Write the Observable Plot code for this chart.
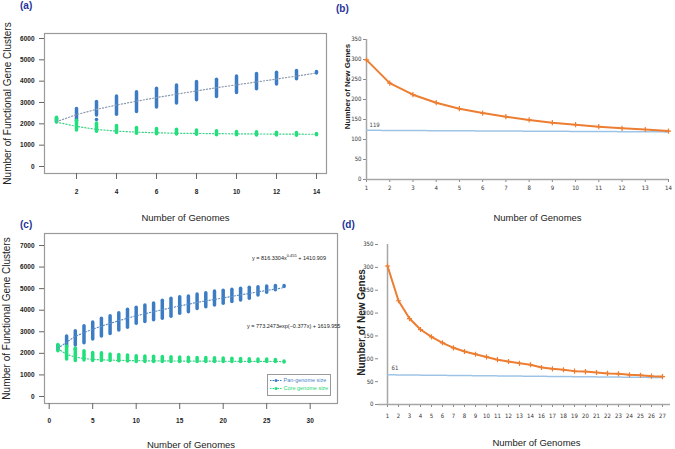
<!DOCTYPE html>
<html><head><meta charset="utf-8">
<script src="https://cdn.jsdelivr.net/npm/d3@7"></script>
<script src="https://cdn.jsdelivr.net/npm/@observablehq/plot@0.6"></script>
<style>
body{margin:0;background:#fff}
#fig{position:relative;width:675px;height:449px;background:#fff;overflow:hidden;font-family:"Liberation Sans",Arial,sans-serif}
.panel{position:absolute}
.plab{position:absolute;font-weight:bold;font-size:10px;color:#26329a;line-height:1}
.eq{position:absolute;font-size:5.5px;color:#222;white-space:nowrap;line-height:1}
.eq sup{font-size:4px;vertical-align:3px}
.legend{position:absolute;left:267px;top:374px;width:62px;height:20px;border:1px solid #999;background:#fff;font-size:5.5px;line-height:1}
.legend div{position:absolute;left:2px;white-space:nowrap}
.legend svg{vertical-align:middle}
</style></head><body><div id="fig"></div>
<script>
// ---------- data ----------
// (a) 14 genomes
const genomesA = [1,2,3,4,5,6,7,8,9,10,11,12,13,14];
const panLoA  = [2080,2120,2390,2420,2560,2760,2950,3100,3260,3450,3620,3840,4090,4380];
const panHiA  = [2230,2700,3020,3280,3480,3640,3800,3960,4070,4220,4330,4400,4480,4430];
const panTrendA = [2100,2430,2680,2880,3060,3230,3390,3540,3690,3830,3960,4100,4240,4380];
const coreLoA = [2060,1690,1630,1570,1530,1510,1500,1490,1470,1460,1450,1450,1440,1460];
const coreHiA = [2280,2150,2020,1900,1810,1760,1720,1690,1650,1620,1600,1580,1570,1520];
const coreTrendA = [2080,1880,1740,1660,1610,1580,1560,1550,1540,1530,1525,1520,1515,1510];
const panOutlierNA = [3]; const panOutlierYA = [2200];
const yTicksA = [0,1000,2000,3000,4000,5000,6000];
const xTicksA = [2,4,6,8,10,12,14];

// (b) new genes, 14 genomes
const genomesB = [1,2,3,4,5,6,7,8,9,10,11,12,13,14];
const newGenesB = [299,241,212,192,177,166,157,149,142,137,132,128,125,121];
const fitB = [123,119];
const fitLabelB = "119";
const yTicksB = [0,50,100,150,200,250,300,350];

// (c) 27 genomes
const genomesC = [1,2,3,4,5,6,7,8,9,10,11,12,13,14,15,16,17,18,19,20,21,22,23,24,25,26,27];
const panLoC = [2150,2290,2360,2470,2640,2780,2900,3060,3190,3370,3450,3540,3600,3700,3830,3910,4060,4140,4220,4300,4380,4450,4530,4680,4810,4920,5080];
const panHiC = [2350,2780,3030,3260,3430,3600,3720,3860,4020,4110,4220,4310,4440,4530,4600,4640,4730,4790,4870,4900,4950,5000,5040,5070,5100,5120,5120];
const panTrendC = [2230,2520,2790,2960,3120,3260,3390,3510,3630,3740,3840,3930,4020,4110,4200,4280,4360,4430,4500,4570,4640,4710,4780,4850,4920,4980,5050];
const coreLoC = [2100,1720,1640,1670,1640,1640,1640,1630,1620,1600,1600,1600,1600,1600,1600,1600,1600,1600,1600,1600,1600,1600,1600,1600,1600,1600,1580];
const coreHiC = [2390,2320,2170,2100,2020,2000,1950,1920,1900,1860,1850,1840,1830,1820,1810,1800,1790,1780,1770,1760,1750,1740,1730,1720,1710,1690,1620];
const coreTrendC = [2220,1950,1830,1760,1720,1700,1685,1675,1665,1660,1655,1650,1648,1646,1644,1642,1640,1638,1636,1634,1632,1630,1628,1626,1624,1622,1620];
const panOutlierNC = [3]; const panOutlierYC = [2200];
const coreOutlierNC = [3]; const coreOutlierYC = [2250];
const yTicksC = [0,1000,2000,3000,4000,5000,6000,7000];
const xTicksC = [0,5,10,15,20,25,30];

// (d) new genes, 26 points (axis labels as printed)
const genomeLabelsD = ["1","2","3","4","5","6","7","8","9","10","11","12","13","14","16","17","18","19","20","21","22","23","24","25","26","27"];
const newGenesD = [303,227,188,164,148,135,124,116,110,104,98,94,90,87,81,78,76,73,72,70,68,67,65,64,62,61];
const fitD = [65,59];
const fitLabelD = "61";
const yTicksD = [0,50,100,150,200,250,300,350];

const xTitle = "Number of Genomes";
const yTitleAC = "Number of Functional Gene Clusters";
const yTitleBD = "Number of New Genes";

// ---------- helpers ----------
const BLUE = "#3c7cc3", GREEN = "#1fe07a", ORANGE = "#ed7d31", LBLUE = "#9cc3e6";
const fmt = d => String(d);
const fig = document.getElementById("fig");
function place(node, left, top) {
  const d = document.createElement("div");
  d.className = "panel"; d.style.left = left + "px"; d.style.top = top + "px";
  d.appendChild(node); fig.appendChild(d);
}
function html(cls, left, top, inner) {
  const d = document.createElement("div");
  d.className = cls; d.style.left = left + "px"; d.style.top = top + "px";
  d.innerHTML = inner; fig.appendChild(d);
}
const rows = (ns, lo, hi) => ns.map((n, i) => ({n, lo: lo[i], hi: hi[i]}));
const pts = (ns, ys) => ns.map((n, i) => ({n, y: ys[i]}));
const styleAC = {fontFamily: "Liberation Sans, Arial, sans-serif", fontSize: "6.5px", fontWeight: "bold", color: "#222", background: "transparent", overflow: "visible"};
const styleBD = {fontFamily: "Liberation Sans Narrow, DejaVu Sans Condensed, sans-serif", fontSize: "6px", color: "#333", background: "transparent", overflow: "visible"};
const title = (t, o) => Plot.text([t], {text: d => d, textAnchor: "middle", lineAnchor: "middle", fill: "#222", ...o});

// ---------- (a) ----------
place(Plot.plot({
  width: 340, height: 225,
  marginLeft: 44, marginRight: 14, marginTop: 33, marginBottom: 52,
  style: styleAC,
  x: {domain: [0.4, 14.5], label: null},
  y: {domain: [-328, 6234], label: null},
  marks: [
    Plot.frame({stroke: "#9a9a9a", strokeWidth: 1.2}),
    Plot.axisY(yTicksA, {tickSize: 5, tickPadding: 5, label: null, stroke: "#666", tickFormat: fmt}),
    Plot.axisX(xTicksA, {tickSize: 6, tickPadding: 10, label: null, stroke: "#666", tickFormat: fmt}),
    Plot.ruleX(rows(genomesA, panLoA, panHiA), {x: "n", y1: "lo", y2: "hi", stroke: BLUE, strokeWidth: 3.5, strokeLinecap: "round"}),
    Plot.dot(pts(panOutlierNA, panOutlierYA), {x: "n", y: "y", r: 1.8, fill: BLUE}),
    Plot.ruleX(rows(genomesA, coreLoA, coreHiA), {x: "n", y1: "lo", y2: "hi", stroke: GREEN, strokeWidth: 3.5, strokeLinecap: "round"}),
    Plot.line(pts(genomesA, panTrendA), {x: "n", y: "y", stroke: "#8c9aae", strokeWidth: 1.2, strokeDasharray: "1.2,2"}),
    Plot.line(pts(genomesA, coreTrendA), {x: "n", y: "y", stroke: "#38d486", strokeWidth: 1.2, strokeDasharray: "1.2,2"}),
    Plot.dot(pts([genomesA[13]], [panTrendA[13]]), {x: "n", y: "y", r: 1.6, fill: BLUE}),
    title(yTitleAC, {frameAnchor: "left", rotate: -90, dx: -37, fontSize: 10, fontWeight: "normal"}),
    title(xTitle, {frameAnchor: "bottom", dy: 44, fontSize: 9.5, fontWeight: "normal"})
  ]
}), 0, 0);

// ---------- (b) ----------
place(Plot.plot({
  width: 345, height: 225,
  marginLeft: 36, marginRight: 7, marginTop: 39, marginBottom: 46,
  style: styleBD,
  x: {domain: [genomesB[0], genomesB[genomesB.length - 1]], label: null},
  y: {domain: [0, 350], label: null},
  marks: [
    Plot.axisY(yTicksB, {tickSize: 3, tickPadding: 2, label: null, stroke: "#888", tickFormat: fmt}),
    Plot.axisX(genomesB, {tickSize: 3, tickPadding: 3, label: null, stroke: "#888", tickFormat: fmt}),
    Plot.ruleY([0], {stroke: "#a6a6a6", strokeWidth: 1.5}),
    Plot.ruleX([genomesB[0]], {stroke: "#a6a6a6", strokeWidth: 1.5}),
    Plot.line(pts([genomesB[0], genomesB[13]], fitB), {x: "n", y: "y", stroke: LBLUE, strokeWidth: 1.5, strokeDasharray: "1.5,1"}),
    Plot.text([fitLabelB], {text: d => d, x: genomesB[0], y: fitB[0], dx: 3, dy: -5, textAnchor: "start", fontSize: 6, fill: "#444"}),
    Plot.line(pts(genomesB, newGenesB), {x: "n", y: "y", stroke: ORANGE, strokeWidth: 2}),
    Plot.dot(pts(genomesB, newGenesB), {x: "n", y: "y", symbol: "plus", r: 1.8, stroke: ORANGE, strokeWidth: 1.2}),
    title(yTitleBD, {frameAnchor: "left", rotate: -90, dx: -19, dy: -23, fontSize: 8, fontWeight: "bold", fontFamily: "Liberation Sans, Arial, sans-serif"}),
    title(xTitle, {frameAnchor: "bottom", dx: 20, dy: 38, fontSize: 9.5, fontFamily: "Liberation Sans, Arial, sans-serif"})
  ]
}), 330, 0);

// ---------- (c) ----------
place(Plot.plot({
  width: 340, height: 224,
  marginLeft: 44, marginRight: 3, marginTop: 8, marginBottom: 46,
  style: styleAC,
  x: {domain: [-0.54, 33.14], label: null},
  y: {domain: [-325, 7556], label: null},
  marks: [
    Plot.frame({stroke: "#9a9a9a", strokeWidth: 1.2}),
    Plot.axisY(yTicksC, {tickSize: 5, tickPadding: 5, label: null, stroke: "#666", tickFormat: fmt}),
    Plot.axisX(xTicksC, {tickSize: 6, tickPadding: 9, label: null, stroke: "#666", tickFormat: fmt}),
    Plot.ruleX(rows(genomesC, panLoC, panHiC), {x: "n", y1: "lo", y2: "hi", stroke: BLUE, strokeWidth: 3.5, strokeLinecap: "round"}),
    Plot.dot(pts(panOutlierNC, panOutlierYC), {x: "n", y: "y", r: 1.8, fill: BLUE}),
    Plot.ruleX(rows(genomesC, coreLoC, coreHiC), {x: "n", y1: "lo", y2: "hi", stroke: GREEN, strokeWidth: 3.5, strokeLinecap: "round"}),
    Plot.dot(pts(coreOutlierNC, coreOutlierYC), {x: "n", y: "y", r: 1.8, fill: GREEN}),
    Plot.line(pts(genomesC, panTrendC), {x: "n", y: "y", stroke: "#5d8fc6", strokeWidth: 1.2, strokeDasharray: "1.2,2"}),
    Plot.line(pts(genomesC, coreTrendC), {x: "n", y: "y", stroke: "#38d486", strokeWidth: 1.2, strokeDasharray: "1.2,2"}),
    title(yTitleAC, {frameAnchor: "left", rotate: -90, dx: -38, fontSize: 10, fontWeight: "normal"}),
    title(xTitle, {frameAnchor: "bottom", dy: 41, fontSize: 9.5, fontWeight: "normal"})
  ]
}), 0, 225);

// ---------- (d) ----------
place(Plot.plot({
  width: 345, height: 224,
  marginLeft: 48, marginRight: 5, marginTop: 19, marginBottom: 45,
  style: styleBD,
  x: {type: "point", domain: genomeLabelsD, padding: 0, label: null},
  y: {domain: [0, 350], label: null},
  marks: [
    Plot.axisY(yTicksD, {tickSize: 3, tickPadding: 2, label: null, stroke: "#888", tickFormat: fmt}),
    Plot.axisX(genomeLabelsD, {tickSize: 3, tickPadding: 6, label: null, stroke: "#888"}),
    Plot.ruleY([0], {stroke: "#a6a6a6", strokeWidth: 1.5}),
    Plot.ruleX([genomeLabelsD[0]], {stroke: "#a6a6a6", strokeWidth: 1.5}),
    Plot.line([{n: genomeLabelsD[0], y: fitD[0]}, {n: genomeLabelsD[25], y: fitD[1]}], {x: "n", y: "y", stroke: LBLUE, strokeWidth: 1.5, strokeDasharray: "1.5,1"}),
    Plot.text([fitLabelD], {text: d => d, x: genomeLabelsD[0], y: fitD[0], dx: 4, dy: -7, textAnchor: "start", fontSize: 6, fill: "#444"}),
    Plot.line(pts(genomeLabelsD, newGenesD), {x: "n", y: "y", stroke: ORANGE, strokeWidth: 2}),
    Plot.dot(pts(genomeLabelsD, newGenesD), {x: "n", y: "y", symbol: "plus", r: 1.8, stroke: ORANGE, strokeWidth: 1.2}),
    title(yTitleBD, {frameAnchor: "left", rotate: -90, dx: -17, dy: -2, fontSize: 10, fontWeight: "bold", fontFamily: "Liberation Sans, Arial, sans-serif"}),
    title(xTitle, {frameAnchor: "bottom", dx: 12, dy: 38, fontSize: 9.5, fontFamily: "Liberation Sans, Arial, sans-serif"})
  ]
}), 330, 225);

// ---------- labels, equations, legend ----------
html("plab", 20, 1, "(a)");
html("plab", 336, 4, "(b)");
html("plab", 20, 220, "(c)");
html("plab", 342, 220, "(d)");
html("eq", 252, 254, "y = 816.3304x<sup>0.455</sup> + 1410.909");
html("eq", 247, 324, "y = 773.2473exp(−0.377x) + 1619.955");
const sym = c => `<svg width="12" height="5"><line x1="0" y1="2.5" x2="12" y2="2.5" stroke="${c}" stroke-dasharray="1.5,1"/><circle cx="6" cy="2.5" r="1.5" fill="${c}"/></svg>`;
html("legend", 267, 374, `<div style="top:3px">${sym(BLUE)} <span style="color:#4a86c8">Pan-genome size</span></div><div style="top:11px">${sym(GREEN)} <span style="color:#1fd873">Core genome size</span></div>`);
</script>
</body></html>
